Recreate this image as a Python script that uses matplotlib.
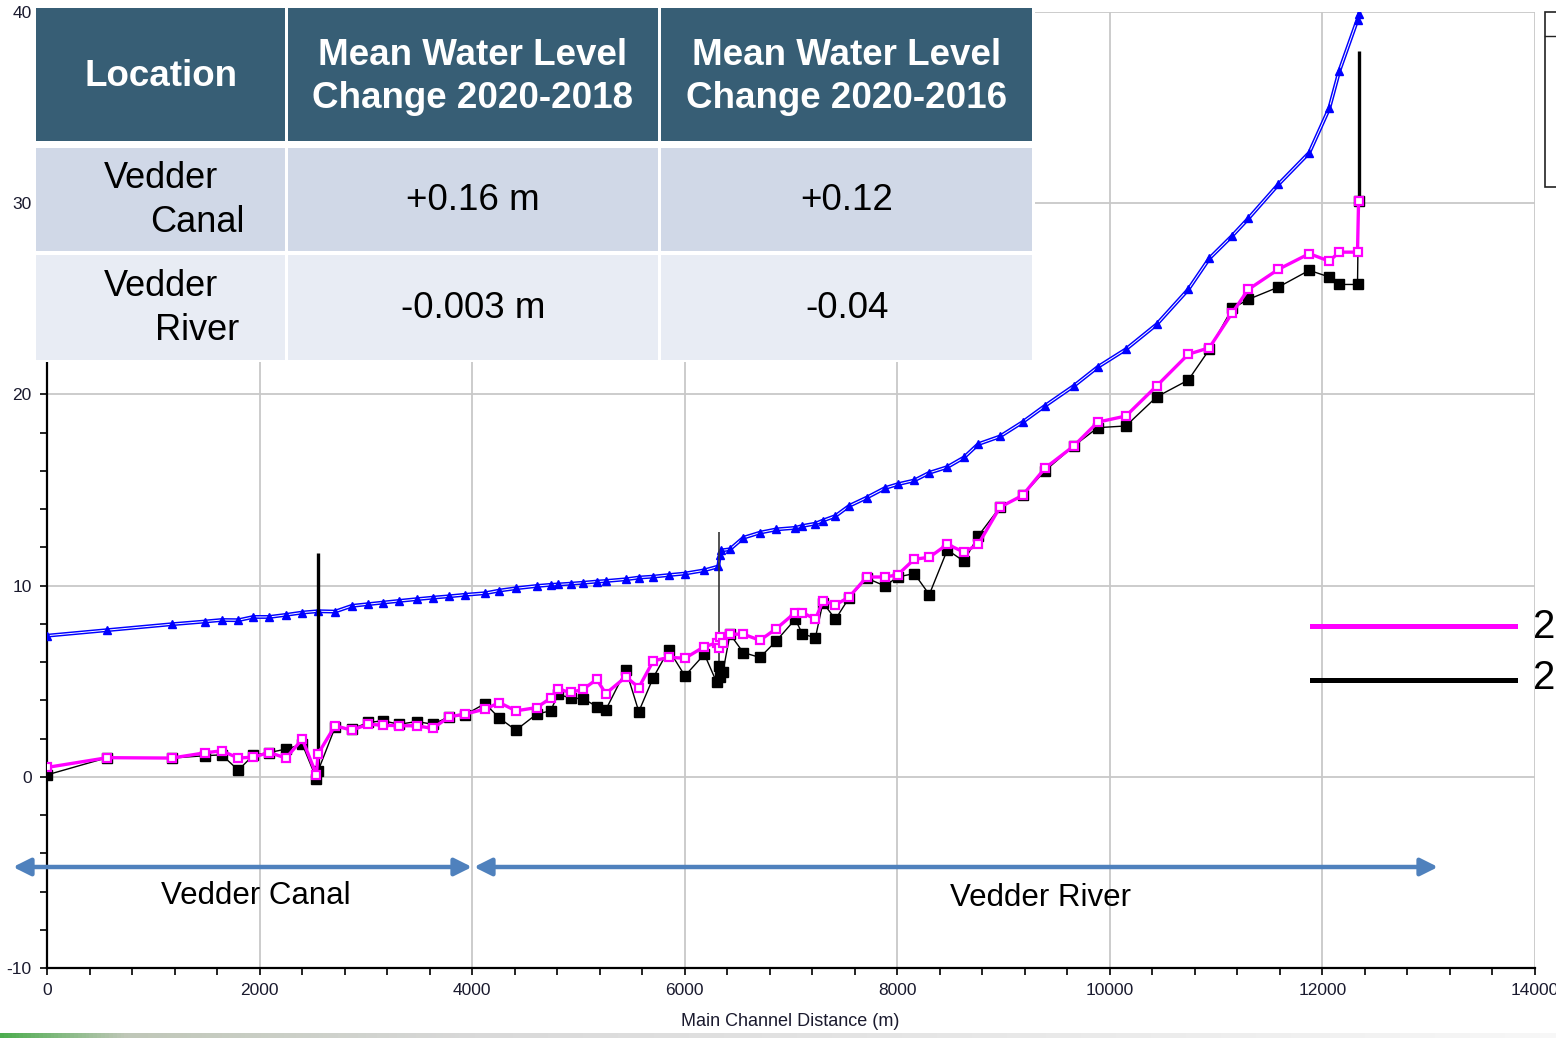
import matplotlib.pyplot as plt
from matplotlib.patches import Rectangle
from matplotlib.ticker import MultipleLocator
import numpy as np

plt.rcParams['font.family'] = ['Liberation Sans', 'DejaVu Sans']
plt.rcParams['axes.unicode_minus'] = False

W, H = 1556, 1038

# main channel stations (m) shared by the water surface profiles
station = [0, 567, 1173, 1482, 1643, 1800, 1941, 2092, 2249, 2402,
           2535, 2550, 2710, 2867, 3023, 3158, 3315, 3478, 3629, 3785,
           3933, 4121, 4256, 4412, 4607, 4738, 4810, 4927, 5046, 5172,
           5257, 5447, 5568, 5704, 5850, 6002, 6185, 6300, 6320, 6335,
           6360, 6426, 6551, 6708, 6862, 7040, 7108, 7230, 7300, 7418,
           7548, 7712, 7884, 8003, 8160, 8301, 8471, 8627, 8762, 8966,
           9179, 9389, 9660, 9886, 10151, 10440, 10738, 10936, 11152, 11303,
           11585, 11876, 12064, 12158, 12330, 12340]

ws_2020 = [0.49, 1.0, 0.98, 1.25, 1.36, 0.98, 1.03, 1.27, 0.98, 1.97,
           0.1, 1.2, 2.67, 2.44, 2.75, 2.7, 2.67, 2.67, 2.53, 3.14,
           3.28, 3.54, 3.88, 3.45, 3.62, 4.11, 4.58, 4.41, 4.58, 5.1,
           4.35, 5.23, 4.67, 6.06, 6.25, 6.2, 6.81, 7.0, 6.75, 7.3,
           7.0, 7.46, 7.46, 7.14, 7.75, 8.59, 8.59, 8.24, 9.2, 8.99,
           9.41, 10.45, 10.45, 10.56, 11.38, 11.48, 12.16, 11.75, 12.16, 14.1,
           14.72, 16.14, 17.3, 18.55, 18.87, 20.44, 22.1, 22.44, 24.27, 25.49,
           26.54, 27.36, 26.97, 27.44, 27.44, 30.1]

ws_2018 = [0.1, 1.0, 0.98, 1.1, 1.15, 0.35, 1.13, 1.27, 1.45, 1.7,
           -0.1, 0.3, 2.58, 2.5, 2.84, 2.93, 2.75, 2.89, 2.75, 3.14,
           3.24, 3.83, 3.07, 2.44, 3.28, 3.45, 4.32, 4.11, 4.09, 3.67,
           3.5, 5.59, 3.41, 5.19, 6.64, 5.28, 6.41, 4.95, 5.8, 5.2,
           5.5, 7.46, 6.5, 6.24, 7.11, 8.24, 7.46, 7.28, 9.11, 8.24,
           9.37, 10.39, 9.98, 10.45, 10.63, 9.53, 11.87, 11.27, 12.6, 14.1,
           14.72, 16.0, 17.3, 18.26, 18.35, 19.87, 20.75, 22.35, 24.5, 24.97,
           25.61, 26.49, 26.14, 25.75, 25.75, 30.1]

# energy grade line
eg_station = [0, 567, 1173, 1482, 1643, 1800, 1941, 2092, 2249, 2402,
              2553, 2710, 2867, 3023, 3158, 3315, 3478, 3629, 3785, 3933,
              4121, 4256, 4412, 4607, 4738, 4810, 4927, 5046, 5172, 5257,
              5447, 5568, 5704, 5850, 6002, 6185, 6316, 6330, 6345, 6426,
              6551, 6708, 6862, 7040, 7108, 7230, 7300, 7418, 7548, 7712,
              7884, 8003, 8160, 8301, 8471, 8627, 8762, 8966, 9179, 9389,
              9660, 9886, 10151, 10440, 10738, 10936, 11152, 11303, 11585, 11876,
              12064, 12158, 12330, 12345]
eg_level = [7.38, 7.67, 7.98, 8.12, 8.2, 8.19, 8.36, 8.36, 8.47, 8.59,
            8.66, 8.64, 8.94, 9.03, 9.11, 9.2, 9.29, 9.37, 9.44, 9.52,
            9.6, 9.74, 9.86, 9.98, 10.04, 10.06, 10.1, 10.15, 10.21, 10.24,
            10.33, 10.42, 10.47, 10.55, 10.63, 10.8, 11.0, 11.6, 11.84, 11.9,
            12.5, 12.77, 12.94, 13.02, 13.12, 13.24, 13.4, 13.64, 14.17, 14.6,
            15.1, 15.3, 15.5, 15.9, 16.2, 16.7, 17.4, 17.8, 18.55, 19.4,
            20.44, 21.43, 22.36, 23.66, 25.49, 27.11, 28.3, 29.2, 30.98, 32.64,
            34.96, 36.9, 39.6, 39.9]

# structures (bridges / weir) drawn as vertical lines
struct_x = [2546, 6325, 12340]
struct_bottom = [0.0, 5.0, 30.1]
struct_top = [11.7, 12.8, 37.95]

# table overlay
table_header = ['Location', 'Mean Water Level\nChange 2020-2018', 'Mean Water Level\nChange 2020-2016']
table_locations = [('Vedder', 'Canal'), ('Vedder', 'River')]
change_2018 = ['+0.16 m', '-0.003 m']
change_2016 = ['+0.12', '-0.04']


def px(x, y):
    return x / W, 1 - y / H


fig = plt.figure(figsize=(W / 100, H / 100), dpi=100)
ax = fig.add_axes([47 / W, 1 - 968 / H, (1535 - 47) / W, (968 - 12) / H])

ax.set_xlim(0, 14000)
ax.set_ylim(-10, 40)
ax.xaxis.set_major_locator(MultipleLocator(2000))
ax.xaxis.set_minor_locator(MultipleLocator(400))
ax.yaxis.set_major_locator(MultipleLocator(10))
ax.yaxis.set_minor_locator(MultipleLocator(2))
ax.grid(True, which='major', color='#c8c8c8', lw=1.3, zorder=0)
ax.set_axisbelow(True)
for s in ['top', 'right']:
    ax.spines[s].set_visible(False)
for s in ['left', 'bottom']:
    ax.spines[s].set_linewidth(1.6)
ax.tick_params(which='both', direction='out', width=1.2, colors='black')
ax.tick_params(which='major', length=5, labelsize=12.5, labelcolor='#1a1a2e', pad=6)
ax.tick_params(which='minor', length=5)

# energy grade line (drawn as a double line)
ax.plot(eg_station, eg_level, color='#0000ff', lw=2.8, zorder=3)
ax.plot(eg_station, eg_level, color='white', lw=0.7, zorder=3)
ax.plot(eg_station, eg_level, ls='none', marker='^', ms=6, color='#0000ff', zorder=4)

ax.vlines(struct_x, struct_bottom, struct_top, colors=['black', '#333333', 'black'],
          lw=[2.4, 1.2, 2.4], zorder=5)

ax.plot(station, ws_2018, color='black', lw=1.0, marker='s', ms=6.5, zorder=6)
ax.plot(station, ws_2020, color='#ff00ff', lw=2.4, marker='s', ms=6,
        mfc='white', mec='#ff00ff', mew=1.6, zorder=7)

fig.text(*px(790, 1022), 'Main Channel Distance (m)', ha='center', va='center',
         fontsize=13, color='#1a1a2e')

# reach arrows
arrow_color = '#4f81bd'
for x0, x1 in [(13, 472), (474, 1438)]:
    ax.annotate('', xy=px(x1, 867), xytext=px(x0, 867), xycoords='figure fraction',
                textcoords='figure fraction',
                arrowprops=dict(arrowstyle='<|-|>', color=arrow_color, lw=3.2,
                                mutation_scale=26, shrinkA=0, shrinkB=0),
                annotation_clip=False, zorder=8)
fig.text(*px(256, 896), 'Vedder Canal', ha='center', va='center', fontsize=22.5)
fig.text(*px(1040, 898), 'Vedder River', ha='center', va='center', fontsize=22.5)

# right-hand legend fragment (runs off the slide edge as in the source)
for y, c in [(626, '#ff00ff'), (680, 'black')]:
    fig.add_artist(plt.Line2D([1312 / W, 1515 / W], [1 - y / H, 1 - y / H],
                              color=c, lw=3.6, transform=fig.transFigure))
fig.text(*px(1533, 627), '2020', ha='left', va='center', fontsize=29)
fig.text(*px(1533, 678), '2018', ha='left', va='center', fontsize=29)

# top-right legend box (cut by figure edge)
fig.add_artist(Rectangle(px(1545, 187), 40 / W, 175 / H, transform=fig.transFigure,
                         fc='white', ec='#222222', lw=1.2))
fig.add_artist(plt.Line2D([1545 / W, 1.0], [1 - 36 / H, 1 - 36 / H], color='#222222',
                          lw=1.0, transform=fig.transFigure))

# table overlay
fig.add_artist(Rectangle(px(35, 362), (1035 - 35) / W, (362 - 4) / H,
                         transform=fig.transFigure, fc='white', ec='none', zorder=10))
cols = [(36, 285), (288, 658), (661, 1032)]
rows = [(8, 141, '#375e75'), (148, 251, '#d0d8e7'), (255, 360, '#e8ecf4')]
for (y0, y1, c) in rows:
    for (x0, x1) in cols:
        fig.add_artist(Rectangle(px(x0, y1), (x1 - x0) / W, (y1 - y0) / H,
                                 transform=fig.transFigure, fc=c, ec='none', zorder=11))

centers = [161, 473, 847]
for cx, txt in zip(centers, table_header):
    fig.text(*px(cx, 77), txt, ha='center', va='center', fontsize=26.5, fontweight='bold',
             color='white', linespacing=1.3, zorder=12)

row_mid = [200, 309]
for i, (w1, w2) in enumerate(table_locations):
    fig.text(*px(161, row_mid[i] - 22), w1, ha='center', va='center', fontsize=26, zorder=12)
    fig.text(*px(197, row_mid[i] + 22), w2, ha='center', va='center', fontsize=26, zorder=12)
    fig.text(*px(473, row_mid[i]), change_2018[i], ha='center', va='center', fontsize=26.5, zorder=12)
    fig.text(*px(847, row_mid[i]), change_2016[i], ha='center', va='center', fontsize=26.5, zorder=12)

# slide footer strip
strip = fig.add_axes([0, 0, 1, 5 / H])
grad = np.linspace(0, 1, 400)
r = np.interp(grad, [0, 0.08, 0.3, 1], [0.30, 0.75, 0.85, 0.97])
g = np.interp(grad, [0, 0.08, 0.3, 1], [0.68, 0.78, 0.85, 0.97])
b = np.interp(grad, [0, 0.08, 0.3, 1], [0.31, 0.72, 0.85, 0.97])
strip.imshow(np.dstack([r, g, b]), aspect='auto')
strip.axis('off')

fig.savefig('out.png', dpi=100)
